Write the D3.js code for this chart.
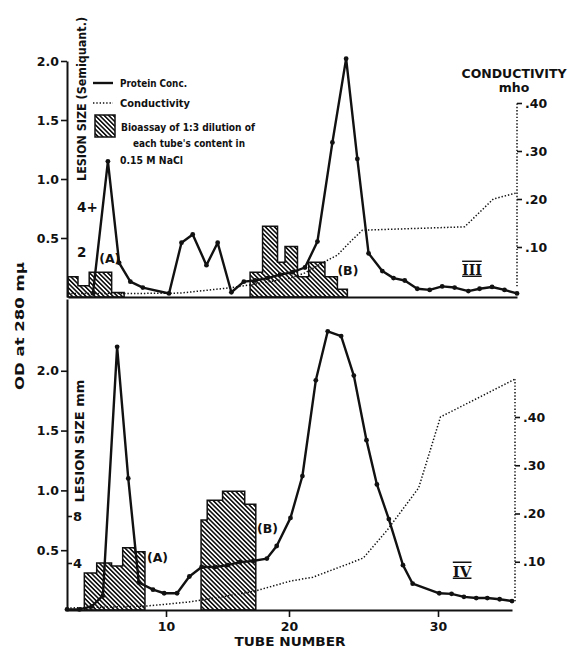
<!DOCTYPE html>
<html>
<head>
<meta charset="utf-8">
<script src="https://cdn.jsdelivr.net/npm/d3@7"></script>
<style>
  body { margin: 0; background: #fff; }
  svg text { font-family: "DejaVu Sans", sans-serif; fill: #111; }
</style>
</head>
<body>
<svg id="chart"></svg>
<script>
const W = 569, H = 651;

// ---- panel III (top) ----
const topTubes = [4, 5.2, 6.1, 7, 8, 10.1, 11.1, 12, 13.1, 14, 15.1, 16.1, 17, 18, 19, 20, 21, 22, 23.2, 24.3, 25.2, 26.1, 27.2, 28.1, 29, 30, 31, 32, 33, 34.1, 35, 36, 37, 38];
const topOD = [0.03, 1.15, 0.29, 0.13, 0.08, 0.03, 0.46, 0.53, 0.27, 0.46, 0.04, 0.13, 0.14, 0.16, 0.19, 0.21, 0.25, 0.47, 1.31, 2.02, 1.17, 0.37, 0.22, 0.16, 0.14, 0.07, 0.06, 0.09, 0.08, 0.05, 0.07, 0.085, 0.06, 0.03];
const topCondTubes = [2, 6.6, 11, 15, 16.6, 19.8, 21, 22.4, 23.6, 24.6, 25.6, 33.8, 36.1, 38];
const topCond = [0.003, 0.003, 0.004, 0.015, 0.021, 0.035, 0.046, 0.067, 0.083, 0.11, 0.135, 0.142, 0.2, 0.213];
// bioassay (semiquant lesion size), bars given by edges + heights
const topBioAEdges = [2.0, 2.8, 3.7, 5.5, 6.5];
const topBioA = [0.9, 0.5, 1.1, 0.2];
const topBioBEdges = [16.6, 17.6, 18.8, 19.4, 20.4, 21.3, 22.6, 23.6, 24.4];
const topBioB = [1.1, 3.15, 1.55, 2.25, 0.9, 1.55, 0.9, 0.35];

// ---- panel IV (bottom) ----
const botTubes = [2, 3, 4, 4.9, 6.05, 6.95, 7.8, 8.95, 9.85, 10.9, 11.9, 12.9, 14, 15, 16, 17.1, 18.2, 19, 20.1, 20.9, 21.8, 22.6, 23.5, 24.35, 25.2, 25.9, 26.7, 27.65, 28.3, 30.1, 31.1, 32.1, 33.1, 34, 35, 36];
const botOD = [0.005, 0.005, 0.03, 0.12, 2.2, 1.1, 0.23, 0.17, 0.14, 0.14, 0.28, 0.36, 0.36, 0.375, 0.4, 0.41, 0.43, 0.535, 0.77, 1.12, 1.92, 2.33, 2.29, 1.96, 1.42, 1.05, 0.76, 0.375, 0.22, 0.14, 0.135, 0.11, 0.1, 0.1, 0.09, 0.075];
const botCondTubes = [2, 8.3, 10, 12, 14.5, 17.2, 20.1, 21.6, 24.1, 25, 26.6, 28.7, 30.2, 36.2];
const botCond = [0.004, 0.008, 0.012, 0.017, 0.027, 0.039, 0.06, 0.068, 0.097, 0.108, 0.166, 0.253, 0.4, 0.478];
const botBioAEdges = [3.4, 4.4, 5.6, 6.5, 7.5, 8.3];
const botBioA = [3.15, 4.0, 3.75, 5.3, 4.95];
const botBioBEdges = [12.85, 13.35, 14.6, 16.4, 17.3];
const botBioB = [7.65, 9.35, 10.1, 9.0];

// ticks
const odTicks = [0.5, 1.0, 1.5, 2.0];
const condTicks = [0.1, 0.2, 0.3, 0.4];
const tubeTicks = [10, 20, 30];
const lesionTopTicks = [2, 4];
const lesionTopLabels = ["2", "4+"];
const lesionBotTicks = [4, 8];

// annotations [text, tube, OD]
const topNotes = [["(A)", 4.5, 0.29], ["(B)", 23.6, 0.19]];
const botNotes = [["(A)", 8.46, 0.40], ["(B)", 17.4, 0.64]];

const svg = d3.select("#chart").attr("width", W).attr("height", H);

const defs = svg.append("defs");
defs.append("pattern")
    .attr("id", "hatch")
    .attr("patternUnits", "userSpaceOnUse")
    .attr("width", 3.2).attr("height", 3.2)
    .attr("patternTransform", "rotate(-45)")
  .append("line")
    .attr("x1", 1.6).attr("x2", 1.6).attr("y1", 0).attr("y2", 3.2)
    .attr("stroke", "#111").attr("stroke-width", 1.6);

// scales
const xTop = d3.scaleLinear().domain([2, 38]).range([68, 517]);
const yTop = d3.scaleLinear().domain([0, 2]).range([297, 61]);
const cTop = d3.scaleLinear().domain([0, 0.4]).range([295, 103]);
const lTop = d3.scaleLinear().domain([0, 4]).range([297, 207]);

// tube labels of panel IV are not evenly spaced in the original
const xBot = d3.scaleLinear().domain([2, 10, 20, 30, 36]).range([67, 166, 289, 438, 512]);
const yBot = d3.scaleLinear().domain([0, 2.6]).range([610, 299]);
const cBot = d3.scaleLinear().domain([0, 0.4]).range([610, 417]);
const lBot = d3.scaleLinear().domain([0, 8]).range([610, 516]);

function styleAxis(g, fs) {
  g.selectAll("path.domain").attr("stroke", "#111").attr("stroke-width", 2);
  g.selectAll(".tick line").attr("stroke", "#111").attr("stroke-width", 1.6);
  g.selectAll(".tick text").attr("font-size", fs).attr("fill", "#111")
    .attr("font-weight", "bold")
    .attr("font-family", "DejaVu Sans, sans-serif");
}

function drawPanel(p) {
  const g = svg.append("g");

  // bioassay histograms
  [p.bioA, p.bioB].forEach(([edges, h]) => {
    const pts = edges.map((e, i) => ({ t: e, h: h[Math.min(i, h.length - 1)] }));
    g.append("path")
      .attr("d", d3.area().curve(d3.curveStepAfter)
        .x(d => p.x(d.t)).y0(p.l(0)).y1(d => p.l(d.h))(pts))
      .attr("fill", "url(#hatch)")
      .attr("stroke", "#111").attr("stroke-width", 1.5);
  });

  // conductivity
  const cond = p.condT.map((t, i) => [t, p.cond[i]]);
  g.append("path")
    .attr("d", d3.line().x(d => p.x(d[0])).y(d => p.c(d[1]))(cond))
    .attr("fill", "none").attr("stroke", "#111")
    .attr("stroke-width", 1.5).attr("stroke-dasharray", "1.4,1.9");

  // protein
  const prot = p.protT.map((t, i) => [t, p.prot[i]]);
  g.append("path")
    .attr("d", d3.line().x(d => p.x(d[0])).y(d => p.y(d[1]))(prot))
    .attr("fill", "none").attr("stroke", "#111")
    .attr("stroke-width", 2.4).attr("stroke-linejoin", "round");
  g.selectAll("circle.dot").data(prot).join("circle")
    .attr("class", "dot")
    .attr("cx", d => p.x(d[0])).attr("cy", d => p.y(d[1]))
    .attr("r", 2.4).attr("fill", "#111");

  // annotations
  g.selectAll("text.note").data(p.notes).join("text")
    .attr("class", "note")
    .attr("x", d => p.x(d[1])).attr("y", d => p.y(d[2]))
    .attr("font-size", 12.5).attr("font-weight", "bold")
    .text(d => d[0]);

  // left OD axis
  g.append("g").attr("transform", "translate(67,0)")
    .call(d3.axisLeft(p.y).tickValues(odTicks).tickFormat(d3.format(".1f"))
      .tickSize(6).tickSizeOuter(0).tickPadding(2))
    .call(a => styleAxis(a, 12.5));

  // right conductivity axis
  const ra = g.append("g").attr("transform", `translate(${p.rx},0)`)
    .call(d3.axisRight(p.c).tickValues(condTicks)
      .tickFormat(d => d3.format(".2f")(d).slice(1))
      .tickSize(5).tickSizeOuter(0).tickPadding(3))
    .call(a => styleAxis(a, 12.5));
  ra.select(".domain").remove();
  ra.append("line")
    .attr("y1", p.c(p.rLow)).attr("y2", p.c(p.rHigh))
    .attr("stroke", "#111").attr("stroke-width", 1.5)
    .attr("stroke-dasharray", "1.4,1.9");
}

drawPanel({
  x: xTop, y: yTop, c: cTop, l: lTop,
  bioA: [topBioAEdges, topBioA], bioB: [topBioBEdges, topBioB],
  condT: topCondTubes, cond: topCond,
  protT: topTubes, prot: topOD,
  notes: topNotes, rx: 517, rLow: 0.018, rHigh: 0.4
});

drawPanel({
  x: xBot, y: yBot, c: cBot, l: lBot,
  bioA: [botBioAEdges, botBioA], bioB: [botBioBEdges, botBioB],
  condT: botCondTubes, cond: botCond,
  protT: botTubes, prot: botOD,
  notes: botNotes, rx: 515, rLow: 0.018, rHigh: botCond[botCond.length - 1]
});

// baselines / tube axis
svg.append("g").attr("transform", "translate(0,297)")
  .call(d3.axisBottom(xTop).tickValues([]).tickSizeOuter(0))
  .call(a => styleAxis(a, 13));

svg.append("g").attr("transform", "translate(0,610)")
  .call(d3.axisBottom(xBot).tickValues(tubeTicks).tickFormat(d3.format("d"))
    .tickSize(7).tickSizeOuter(0).tickPadding(5))
  .call(a => styleAxis(a, 12.5));

// lesion size scales
const lt = svg.append("g").attr("transform", "translate(74,0)")
  .call(d3.axisRight(lTop).tickValues(lesionTopTicks)
    .tickFormat((d, i) => lesionTopLabels[i]).tickSize(0).tickPadding(3))
  .call(a => styleAxis(a, 13.5));
lt.select(".domain").remove();

const lb = svg.append("g").attr("transform", "translate(67,0)")
  .call(d3.axisRight(lBot).tickValues(lesionBotTicks).tickSize(5).tickPadding(1))
  .call(a => styleAxis(a, 13));
lb.select(".domain").remove();

// axis titles
function vtext(x, y, len, fs, str) {
  svg.append("text")
    .attr("transform", `translate(${x},${y}) rotate(-90)`)
    .attr("text-anchor", "middle").attr("dy", "0.35em")
    .attr("font-size", fs).attr("font-weight", "bold")
    .attr("textLength", len)
    .attr("lengthAdjust", "spacingAndGlyphs")
    .text(str);
}
vtext(82, 99, 164, 12.5, "LESION SIZE (Semiquant.)");
vtext(80, 441, 123, 12.5, "LESION SIZE mm");
vtext(20, 326, 128, 12.5, "OD at 280 mμ");

svg.append("text").attr("x", 514).attr("y", 78).attr("text-anchor", "middle")
  .attr("font-size", 12.5).attr("font-weight", "bold")
  .attr("textLength", 105).attr("lengthAdjust", "spacingAndGlyphs")
  .text("CONDUCTIVITY");
svg.append("text").attr("x", 514).attr("y", 92).attr("text-anchor", "middle")
  .attr("font-size", 12.5).attr("font-weight", "bold").text("mho");
svg.append("text").attr("x", 290).attr("y", 646).attr("text-anchor", "middle")
  .attr("font-size", 13).attr("font-weight", "bold")
  .attr("textLength", 111).attr("lengthAdjust", "spacingAndGlyphs")
  .text("TUBE NUMBER");

// panel numerals
svg.append("text").attr("x", xTop(33.6)).attr("y", yTop(0.19))
  .attr("font-weight", "bold")
  .attr("font-size", 14).style("text-decoration", "overline underline")
  .style("font-family", "DejaVu Serif, serif")
  .text("III");
svg.append("text").attr("x", xBot(31.2)).attr("y", yBot(0.28))
  .attr("font-weight", "bold")
  .attr("font-size", 15).style("text-decoration", "overline underline")
  .style("font-family", "DejaVu Serif, serif")
  .text("IV");

// legend
const lg = svg.append("g").attr("font-size", 10.5).attr("font-weight", "bold");
lg.append("line").attr("x1", 93).attr("x2", 113).attr("y1", 83).attr("y2", 83)
  .attr("stroke", "#111").attr("stroke-width", 2.4);
lg.append("line").attr("x1", 93).attr("x2", 113).attr("y1", 103).attr("y2", 103)
  .attr("stroke", "#111").attr("stroke-width", 1.5).attr("stroke-dasharray", "1.4,1.9");
lg.append("rect").attr("x", 95).attr("y", 115).attr("width", 20).attr("height", 22)
  .attr("fill", "url(#hatch)").attr("stroke", "#111").attr("stroke-width", 1.5);
[["Protein Conc.", 120, 87, 67], ["Conductivity", 120, 107, 70],
 ["Bioassay of 1:3 dilution of", 121, 131, 134],
 ["each tube's content in", 133, 147, 112],
 ["0.15 M NaCl", 120, 164, 63]].forEach(([s, x, y, len]) => {
  lg.append("text").attr("x", x).attr("y", y)
    .attr("textLength", len).attr("lengthAdjust", "spacingAndGlyphs").text(s);
});
</script>
</body>
</html>
